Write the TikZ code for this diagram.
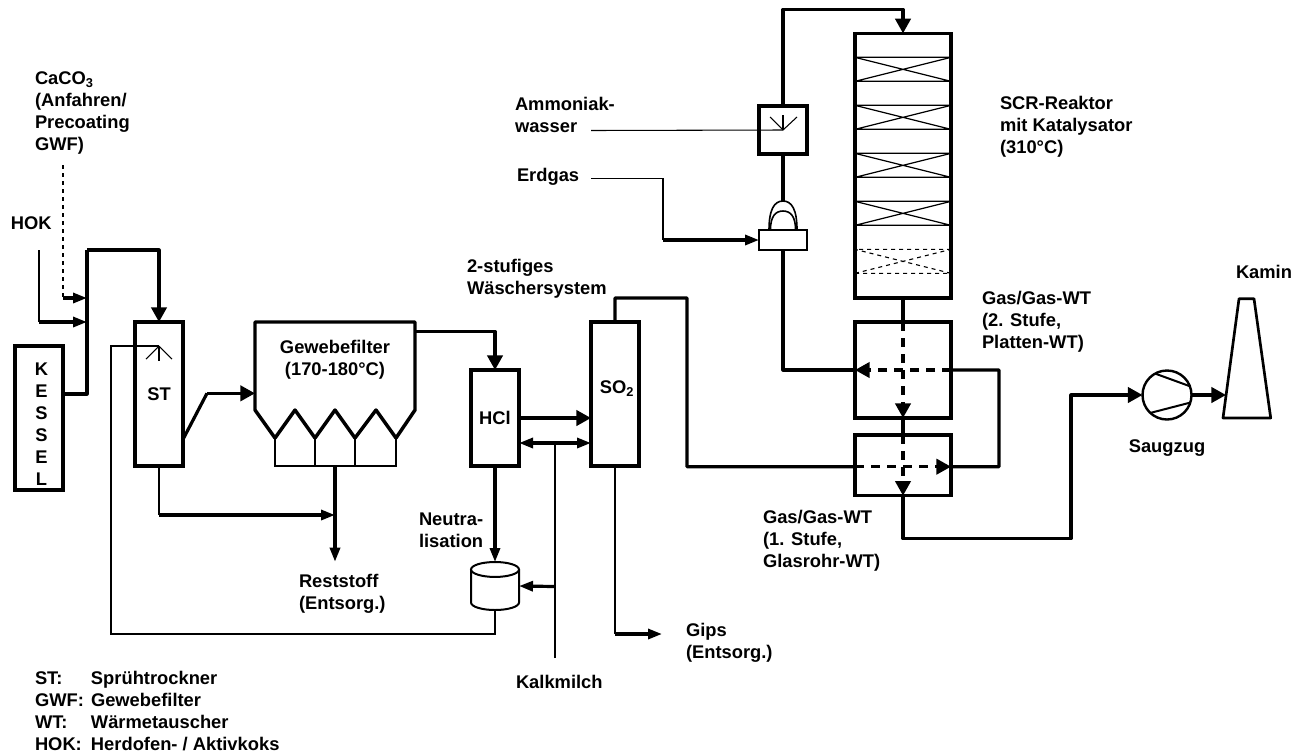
\documentclass[tikz,border=0pt]{standalone}
\usepackage{fontspec}
\setmainfont{Liberation Sans}
\usetikzlibrary{arrows.meta, positioning, calc}
\begin{document}
\begin{tikzpicture}[
            x=0.75pt, y=-0.75pt,
            every node/.style={font=\fontsize{13.75}{16.5}\selectfont\bfseries, inner sep=0pt, outer sep=0pt, align=left},
            vessel/.style={draw, line width=2.6pt, minimum width=36pt, minimum height=108pt, align=center},
            thinline/.style={line width=0.8pt},
            flow/.style={line width=2.4pt, line join=round},
            gasarrow/.style={flow, -{Triangle[length=11pt, width=11.5pt]}},
            arrow/.style={flow, -{Triangle[length=10.5pt, width=7.5pt]}},
            inner flow/.style={dash pattern=on 7pt off 5pt}
        ]
            \useasboundingbox (0,0) rectangle (1308,754);

            % Main vessels
            \node[vessel] (kessel) at (39,418) {};
            \node[vessel, right=54pt of kessel, yshift=18pt] (st) {ST};
            \node[minimum width=120pt, minimum height=66pt, below right=0pt and 54pt of st.north east] (filter) {};
            \node[vessel, minimum height=72pt, above right=0pt and 216pt of st.south east] (hcl) {HCl};
            \node[vessel, above right=0pt and 54pt of hcl.south east] (sotwo) {};
            \node[vessel, minimum width=72pt, minimum height=72pt, below right=0pt and 162pt of sotwo.north east] (wttwo) {};
            \node[vessel, minimum width=72pt, minimum height=45.5pt, below=12.75pt of wttwo] (wtone) {};
            \node[vessel, minimum width=72pt, minimum height=198.5pt, above=18pt of wttwo] (scr) {};
            \node[draw, line width=1.5pt, minimum width=36pt, minimum height=15pt, above left=54pt and 36pt of wttwo.north west] (burner) {};
            \node[vessel, minimum height=36pt, above=57pt of burner] (mixer) {};
            \node[minimum width=36pt, minimum height=36pt, below=72pt of hcl] (tank) {};
            \node[draw, line width=1.8pt, circle, minimum size=36.75pt] (fan) at (1167,395) {};

            % Labels
            \node at (41.5,424) [align=center] (kessellabel) {K\\E\\S\\S\\E\\L};
            \node[align=center, above=-43pt of filter] (filterlabel) {Gewebefilter\\(170-180\textdegree C)};
            \node at (617,389) (sotwolabel) {SO\textsubscript{2}};
            \node[anchor=west] at (35,113) (cacolabel) {CaCO\textsubscript{3}\\(Anfahren/\\Precoating\\GWF)};
            \node[anchor=west] at (11,223) (hoklabel) {HOK};
            \node[anchor=west] at (515,115) (ammolabel) {Ammoniak-\\wasser};
            \node[anchor=west] at (517,177) (erdgaslabel) {Erdgas};
            \node[anchor=west] at (467,278.5) (waescherlabel) {2-stufiges\\Wäschersystem};
            \node[anchor=west] at (1000,127) (scrlabel) {SCR-Reaktor\\mit Katalysator\\(310\textdegree C)};
            \node[anchor=west] at (982,322) (wttwolabel) {Gas/Gas-WT\\(2. Stufe,\\Platten-WT)};
            \node[anchor=west] at (763,541) (wtonelabel) {Gas/Gas-WT\\(1. Stufe,\\Glasrohr-WT)};
            \node[anchor=west] at (299,594) (restlabel) {Reststoff\\(Entsorg.)};
            \node[anchor=west] at (419,530) (neutrallabel) {Neutra-\\lisation};
            \node[anchor=west] at (686,643) (gipslabel) {Gips\\(Entsorg.)};
            \node[anchor=west] at (516,682) (kalklabel) {Kalkmilch};
            \node[below=15pt of fan, xshift=0pt] (saugzuglabel) {Saugzug};
            \node at (1264,272) (kaminlabel) {Kamin};
            \node[anchor=west] at (35,713.5) (legend) {\begin{tabular}{@{}p{42pt}@{}l@{}}
                ST: & Sprühtrockner\\
                GWF: & Gewebefilter\\
                WT: & Wärmetauscher\\
                HOK: & Herdofen- / Aktivkoks
            \end{tabular}};

            % Free ends and bends
            \coordinate (riser) at (87,250);
            \coordinate (kesselout) at ([yshift=18pt]kessel.east);
            \coordinate (hokstart) at (39,250);
            \coordinate (hokturn) at (39,322);
            \coordinate (hokin) at (87,322);
            \coordinate (cacostart) at (63,165);
            \coordinate (cacoturn) at (63,298);
            \coordinate (cacoin) at (87,298);
            \coordinate (stspray) at ([yshift=-18pt]st.north);
            \coordinate (stout) at ([yshift=20pt]st.south east);
            \coordinate (filterin) at ([yshift=12.5pt]filter.south west);
            \coordinate (filterkink) at ([xshift=-36pt]filterin);
            \coordinate (filterout) at ([yshift=-7pt]filter.north east);
            \coordinate (stturn) at (159,515);
            \coordinate (restjoin) at (335,515);
            \coordinate (restend) at (335,561.7);
            \coordinate (retleft) at (111,634);
            \coordinate (kalktee) at (555,443);
            \coordinate (kalktank) at (555,586.5);
            \coordinate (kalkend) at (555,658);
            \coordinate (gipsturn) at (615,634);
            \coordinate (gipsend) at (662,634);
            \coordinate (sotop) at (615,322.7);
            \coordinate (sobottom) at (615,466.7);
            \coordinate (soriser) at (687,298);
            \coordinate (sodrop) at (687,466.7);
            \coordinate (wtonein) at ([yshift=-1pt]wtone.west);
            \coordinate (wtoneout) at ([yshift=-1pt]wtone.east);
            \coordinate (loop) at (999,466.7);
            \coordinate (scrin) at ([yshift=18pt]scr.north);
            \coordinate (ammoend) at (591,130.5);
            \coordinate (erdgasend) at (591,178.5);
            \coordinate (erdgasturn) at (663,240);
            \coordinate (burnerin) at (burner.west);
            \coordinate (fanriser) at (1071,538.5);
            \coordinate (kaminin) at (1226,395);

            % Filter housing
            \draw[line width=2.6pt, line join=round] (filter.south west) -- (filter.north west) -- (filter.north east) -- (filter.south east)
                -- ++(-19,28) coordinate (tipd) -- ++(-20,-28) -- ++(-21,28) coordinate (tipc) -- ++(-20,-28) -- ++(-20,28) coordinate (tipb) -- ++(-20,-28) -- ++(-20,28) coordinate (tipa) -- cycle;
            \draw[thinline] (tipa) -- (tipa |- st.south) -- (tipd |- st.south) -- (tipd);
            \draw[thinline] (tipb) -- (tipb |- st.south);
            \draw[thinline] (tipc) -- (tipc |- st.south);

            % Catalyst layers
            \foreach \y in {24,72,120,168} {
                \draw[line width=0.9pt] ([yshift=-\y*0.75pt]scr.north west) rectangle ++(96,24) -- ++(-96,-24) ++(0,24) -- ++(96,-24);
            }
            \draw[line width=0.8pt, dashed] ([yshift=-162pt]scr.north west) rectangle ++(96,24) -- ++(-96,-24) ++(0,24) -- ++(96,-24);

            % Burner dome
            \draw[line width=1.2pt] ([xshift=-10.5pt]burner.north) .. controls +(0,-20) and +(-9,0) .. ([yshift=21.75pt]burner.north) .. controls +(9,0) and +(0,-20) .. ([xshift=10.5pt]burner.north);
            \draw[line width=1.2pt] ([xshift=-9.4pt]burner.north) .. controls +(0,-13) and +(-8,0) .. ([yshift=14.25pt]burner.north) .. controls +(8,0) and +(0,-13) .. ([xshift=9.4pt]burner.north);

            % Neutralisation tank
            \draw[line width=1.5pt] ([yshift=-5.6pt]tank.north) ellipse [x radius=18pt, y radius=5.6pt];
            \draw[line width=1.5pt] ([yshift=-5.6pt]tank.north west) -- ([yshift=5.6pt]tank.south west) arc [start angle=180, end angle=360, x radius=18pt, y radius=5.6pt] -- ([yshift=-5.6pt]tank.north east);

            % Chimney
            \draw[line width=2pt, line join=round] (1239,298.7) coordinate (kamintop) -- (1254,298.7) -- (1270.7,418) -- (1223,418) -- cycle;

            % Fan blades
            \draw[line width=1.5pt] (fan.119) -- (fan.21);
            \draw[line width=1.5pt] (fan.-133) -- (fan.-18);

            % Spray heads
            \draw[thinline] (stspray) -- ++(-13,13);
            \draw[thinline] (stspray) -- ++(13,13);
            \draw[thinline] (stspray) -- ++(0,15);
            \draw[thinline] (mixer.center) -- ++(-13,-13);
            \draw[thinline] (mixer.center) -- ++(14,-13);
            \draw[thinline] (mixer.center) -- ++(0,-15);

            % Flue gas path
            \draw[flow] (kesselout) -| (riser);
            \draw[gasarrow] (riser) -| (st.north);
            \draw[flow] (stout) -- (filterkink);
            \draw[gasarrow] (filterkink) -- (filterin);
            \draw[gasarrow] (filterout) -| (hcl.north);
            \draw[gasarrow] (hcl.east) -- (hcl.east -| sotwo.west);
            \draw[flow] (sotop) |- (soriser) -- (sodrop) -- (wtonein);
            \draw[gasarrow, inner flow] (wtonein) -- (wtoneout);
            \draw[flow] (wtoneout) -- (loop) |- (wttwo.east);
            \draw[gasarrow, inner flow] (wttwo.east) -- (wttwo.west);
            \draw[flow] (wttwo.west) -| (burner.south);
            \draw[flow] (burner.north) ++(0,-29) -- (mixer.south);
            \draw[gasarrow] (mixer.north) |- (scrin) -- (scr.north);
            \draw[flow] (scr.south) -- (wttwo.north);
            \draw[gasarrow, inner flow] (wttwo.north) -- (wttwo.south);
            \draw[flow] (wttwo.south) -- (wtone.north);
            \draw[gasarrow, inner flow] (wtone.north) -- (wtone.south);
            \draw[gasarrow] (wtone.south) |- (fanriser) |- (fan.west);
            \draw[gasarrow] (fan.east) -- (kaminin);

            % Feeds and residues
            \draw[thinline] (hokstart) -- (hokturn);
            \draw[arrow] (hokturn) -- (hokin);
            \draw[thinline, dashed] (cacostart) -- (cacoturn);
            \draw[arrow] (cacoturn) -- (cacoin);
            \draw[thinline] (st.south) -- (stturn);
            \draw[arrow] (stturn) -- (restjoin);
            \draw[arrow] (filter.south |- st.south) -- (restend);
            \draw[arrow] (hcl.south) -- (tank.north);
            \draw[thinline] (tank.south) |- (retleft) |- (stspray);
            \draw[thinline] (kalkend) -- (kalktee);
            \draw[arrow] (kalktee) -- (hcl.east |- kalktee);
            \draw[arrow] (kalktee) -- (sotwo.west |- kalktee);
            \draw[arrow] (kalktank) -- (tank.east);
            \draw[thinline] (sobottom) -- (gipsturn);
            \draw[arrow] (gipsturn) -- (gipsend);
            \draw[thinline] (ammoend) -- (mixer.center);
            \draw[thinline] (erdgasend) -| (erdgasturn);
            \draw[arrow] (erdgasturn) -- (burnerin);
        \end{tikzpicture}
\end{document}
